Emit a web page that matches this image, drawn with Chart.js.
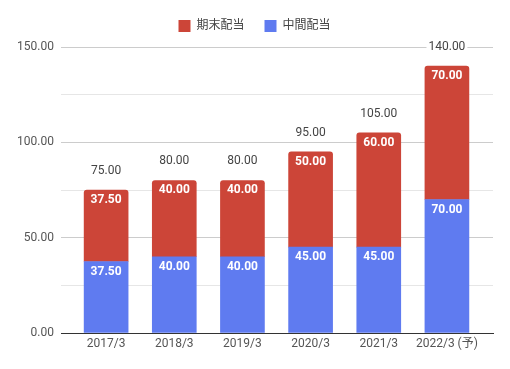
<!DOCTYPE html>
<html><head><meta charset="utf-8">
<script src="https://cdn.jsdelivr.net/npm/chart.js@4.4.0/dist/chart.umd.min.js"></script>
<style>html,body{margin:0;padding:0;background:#fff}#w{width:510px;height:369px}</style>
</head><body><div id="w"><canvas id="c"></canvas></div>
<script>
const categories = ["2017/3","2018/3","2019/3","2020/3","2021/3","2022/3 (予)"];
const interim = [37.5, 40, 40, 45, 45, 70];      // 中間配当
const yearEnd = [37.5, 40, 40, 50, 60, 70];      // 期末配当
const totals = [75, 80, 80, 95, 105, 140];
const yTicks = [0, 50, 100, 150];

const RED = '#cc4538', BLUE = '#5f7bf0';
const FONT = 'Roboto, "Noto Sans CJK JP", sans-serif';

const labelPlugin = {
  id: 'vals',
  beforeLayout(chart) {
    const lg = chart.legend;
    if (lg && !lg._patched) {
      const f = lg.fit.bind(lg);
      lg.fit = function () { f(); this.height += 5; };
      lg._patched = true;
    }
  },
  afterLayout(chart) {
    const lg = chart.legend;
    if (lg) { lg.left += 8; lg.right += 8; }
  },
  afterDatasetsDraw(chart) {
    const ctx = chart.ctx;
    ctx.save();
    ctx.textAlign = 'center';
    ctx.textBaseline = 'middle';
    chart.data.datasets.forEach((ds, di) => {
      const meta = chart.getDatasetMeta(di);
      meta.data.forEach((el, i) => {
        ctx.font = 'bold 12px ' + FONT;
        ctx.fillStyle = '#ffffff';
        ctx.fillText(ds.data[i].y.toFixed(2), el.x, el.y + 10);
      });
    });
    const top = chart.getDatasetMeta(1);
    top.data.forEach((el, i) => {
      const t = totals[i].toFixed(2);
      ctx.font = '12px ' + FONT;
      const w = ctx.measureText(t).width;
      const y = el.y - 19;
      ctx.fillStyle = '#ffffff';
      ctx.fillRect(el.x - w/2 - 2, y - 7, w + 4, 14);
      ctx.fillStyle = '#444444';
      ctx.fillText(t, el.x, y);
    });
    ctx.restore();
  }
};

new Chart(document.getElementById('c'), {
  type: 'bar',
  data: {
    datasets: [
      { label: '中間配当', data: interim.map((v,i)=>({x:i,y:v})), backgroundColor: BLUE, barThickness: 44, borderRadius: 0 },
      { label: '期末配当', data: yearEnd.map((v,i)=>({x:i,y:v})), backgroundColor: RED, barThickness: 44,
        borderRadius: {topLeft:3, topRight:3, bottomLeft:0, bottomRight:0}, borderSkipped: 'start' }
    ]
  },
  options: {
    responsive: true, maintainAspectRatio: false, animation: false,
    layout: { padding: { top: 0, right: 17, bottom: 0, left: 0 } },
    plugins: {
      tooltip: { enabled: false },
      legend: {
        position: 'top', reverse: true,
        labels: { boxWidth: 12, boxHeight: 12, padding: 20, color: '#444', font: { family: FONT, size: 12 } }
      }
    },
    scales: {
      x: {
        type: 'linear', stacked: true, min: -0.662, max: 5.676, offset: false,
        afterBuildTicks: s => { s.ticks = categories.map((c,i)=>({value:i})); },
        afterFit: s => { s.height = 36; },
        ticks: { callback: v => categories[v] ?? '', color: '#555', font: { family: FONT, size: 12 }, padding: 4, maxRotation: 0, autoSkip: false },
        grid: { display: false, drawTicks: false },
        border: { display: true, color: '#333', width: 1 }
      },
      y: {
        stacked: true, min: 0, max: 150,
        afterBuildTicks: s => { s.ticks = [0,25,50,75,100,125,150].map(v=>({value:v})); },
        afterFit: s => { s.width = 61; },
        ticks: { callback: v => yTicks.includes(v) ? v.toFixed(2) : '', color: '#555', font: { family: FONT, size: 12 }, padding: 7 },
        grid: { drawTicks: false, color: c => (c.tick && c.tick.value % 50 === 0) ? '#cccccc' : '#e6e6e6' },
        border: { display: false }
      }
    }
  },
  plugins: [labelPlugin]
});
</script></body></html>
